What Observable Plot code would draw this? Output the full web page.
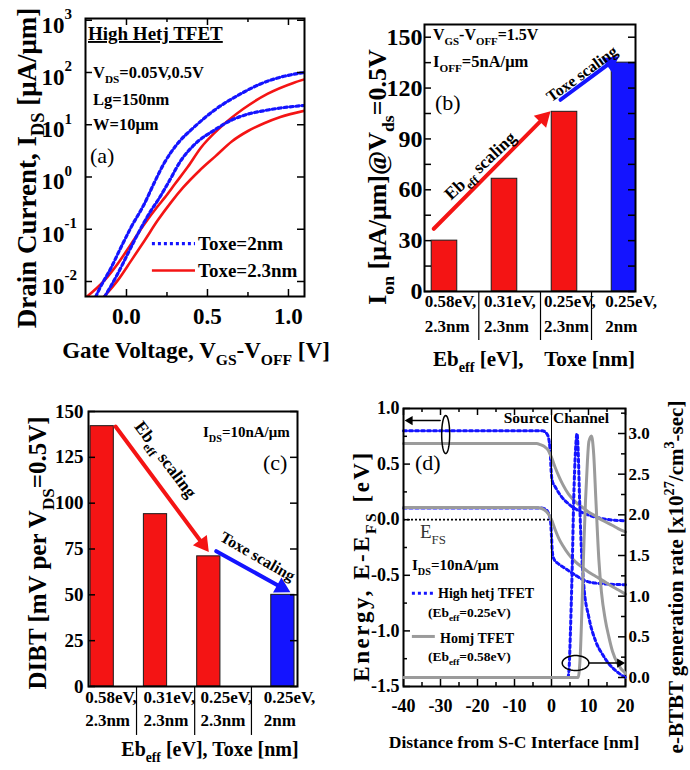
<!DOCTYPE html>
<html><head><meta charset="utf-8">
<script src="https://cdn.jsdelivr.net/npm/d3@7"></script>
<script src="https://cdn.jsdelivr.net/npm/@observablehq/plot@0.6"></script>
<style>
body{margin:0;background:#fff}
#wrap{position:relative;width:690px;height:770px;background:#fff;overflow:hidden}
#wrap svg{position:absolute;left:0;top:0}
</style></head><body><div id="wrap"></div>
<script>
// ---------- DATA ----------
// (a) transfer curves: gate voltage V_GS-V_OFF [V] and drain current [uA/um]
const vgBlueHi = [-0.19, -0.167, -0.094, -0.033, 0.029, 0.111, 0.17, 0.23, 0.313, 0.416, 0.539, 0.704, 0.827, 0.951, 1.1];
const idBlueHi = [0.0051, 0.0072, 0.0186, 0.0457, 0.110, 0.309, 0.76, 1.78, 4.27, 8.91, 18.6, 38.9, 60.3, 81.3, 100];
const vgBlueLo = [-0.135, -0.054, 0.008, 0.070, 0.152, 0.193, 0.26, 0.333, 0.43, 0.539, 0.642, 0.745, 0.85, 0.951, 1.1];
const idBlueLo = [0.0051, 0.0141, 0.0339, 0.0813, 0.229, 0.355, 0.794, 2.0, 4.47, 7.76, 12.0, 15.8, 18.6, 20.9, 23.4];
const vgRedHi = [-0.245, -0.136, -0.054, 0.029, 0.111, 0.193, 0.235, 0.3, 0.38, 0.457, 0.58, 0.72, 0.87, 1.03, 1.1];
const idRedHi = [0.0051, 0.0105, 0.0219, 0.0525, 0.126, 0.275, 0.398, 0.741, 1.58, 3.55, 8.91, 20.0, 38.9, 63.1, 74.1];
const vgRedLo = [-0.14, -0.054, 0.029, 0.111, 0.193, 0.276, 0.35, 0.45, 0.55, 0.65, 0.75, 0.85, 0.95, 1.1];
const idRedLo = [0.0051, 0.0105, 0.0251, 0.0603, 0.148, 0.331, 0.631, 1.32, 2.51, 4.79, 7.59, 10.7, 14.1, 18.6];
const ticksLogA = [0.01, 0.1, 1, 10, 100, 1000];
const ticksVgA = [0, 0.5, 1.0];

// (b),(c) bar charts
const catEb = ["0.58eV,", "0.31eV,", "0.25eV,", "0.25eV,"];
const catToxe = ["2.3nm", "2.3nm", "2.3nm", "2nm"];
const ionVals = [30, 66.5, 106, 135];
const dibtVals = [142, 94, 71, 50];
const ticksB = [0, 30, 60, 90, 120, 150];
const ticksC = [0, 25, 50, 75, 100, 125, 150];

// (d) band diagrams: distance [nm], energy [eV]
const xEcHet = [-40, -2.5, -1.2, -0.6, -0.3, -0.1, 0.2, 1.1, 2.4, 4.7, 7.4, 10.1, 13.7, 20];
const eEcHet = [0.80, 0.80, 0.77, 0.70, 0.58, 0.44, 0.35, 0.29, 0.22, 0.14, 0.08, 0.04, 0.01, -0.01];
const xEvHet = [-40, -3, -2, -1, -0.3, 0, 0.2, 0.6, 2, 3.8, 6.5, 9.2, 11.9, 20];
const eEvHet = [0.105, 0.105, 0.10, 0.07, 0.0, -0.15, -0.28, -0.35, -0.40, -0.44, -0.50, -0.55, -0.57, -0.585];
const xHom = [-40, -4, -3, -2, -1, 0, 1, 2, 3, 4.6, 6.5, 8.4, 10, 12, 14, 16.4, 18, 20];
const eEcHom = [0.685, 0.685, 0.675, 0.66, 0.63, 0.56, 0.47, 0.39, 0.32, 0.23, 0.16, 0.11, 0.07, 0.03, -0.01, -0.05, -0.08, -0.11];
const eEvHom = [0.11, 0.11, 0.105, 0.09, 0.06, 0.0, -0.09, -0.17, -0.23, -0.31, -0.38, -0.43, -0.47, -0.51, -0.55, -0.60, -0.63, -0.67];
// (d) e-BTBT generation rate [x10^27 /cm^3-sec]
const xGenHom = [-40, 7.2, 7.8, 8.3, 8.8, 9.2, 9.7, 10.1, 10.8, 11.4, 12, 12.8, 13.5, 14.5, 15.5, 16.5, 18, 20];
const gGenHom = [0, 0, 0.3, 0.95, 1.7, 2.18, 2.65, 2.9, 2.97, 2.75, 2.18, 1.45, 1.05, 0.72, 0.5, 0.32, 0.16, 0.05];
const xGenHet = [4.5, 4.8, 5.1, 5.6, 6.0, 6.5, 6.9, 7.2, 7.6, 7.9, 8.7, 10.1, 11.9, 13.7, 15.5, 18, 20];
const gGenHet = [0, 0.15, 0.54, 1.36, 2.18, 2.8, 3.0, 2.79, 2.18, 1.77, 1.15, 0.74, 0.45, 0.29, 0.17, 0.06, 0.0];
const ticksDx = [-40, -30, -20, -10, 0, 10, 20];
const ticksDy = [-1.5, -1.0, -0.5, 0.0, 0.5, 1.0];
const ticksDr = [0, 0.5, 1.0, 1.5, 2.0, 2.5, 3.0];

// ---------- HELPERS ----------
const SERIF = "'Liberation Serif','Times New Roman',serif";
const BLUE = "#1414ff", RED = "#f41414", GRAY = "#9b9b9b";
const W = 690, H = 770;
const wrap = document.getElementById("wrap");
const tbl = (xs, ys) => xs.map((x, k) => ({x, y: ys[k]}));

function frameOpts(l, r, t, b) {
  return {width: W, height: H, marginLeft: l, marginRight: W - r, marginTop: t, marginBottom: H - b,
    style: {background: "transparent", fontFamily: SERIF, overflow: "visible"}};
}
function ticksY(vals, plotW, len, side) {
  const o = {y: d => d, stroke: "#000", strokeWidth: 1.5};
  o[side === "left" ? "insetRight" : "insetLeft"] = plotW - len;
  return Plot.tickY(vals, o);
}
function ticksX(vals, plotH, len, side) {
  const o = {x: d => d, stroke: "#000", strokeWidth: 1.5};
  o[side === "bottom" ? "insetTop" : "insetBottom"] = plotH - len;
  return Plot.tickX(vals, o);
}
function rich(svg, x, y, parts, o = {}) {
  const size = o.size || 16;
  const t = d3.select(svg).append("text")
    .attr("transform", `translate(${x},${y})` + (o.rotate ? ` rotate(${o.rotate})` : ""))
    .attr("text-anchor", o.anchor || "start")
    .attr("font-family", SERIF).attr("font-size", size)
    .attr("font-weight", o.weight || "bold").attr("fill", o.fill || "#000")
    .style("white-space", "pre");
  if (o.ls) t.attr("letter-spacing", o.ls);
  if (o.underline) t.attr("text-decoration", "underline");
  let shift = 0;
  for (const p of parts) {
    const [s, k] = Array.isArray(p) ? p : [p, null];
    const target = k === "sub" ? size * 0.3 : k === "sup" ? -size * 0.42 : 0;
    const ts = t.append("tspan").attr("dy", target - shift).text(s);
    if (k) ts.attr("font-size", size * 0.68);
    shift = target;
  }
  return t;
}
function ellipse(cx, cy, rx, ry) {
  return d3.range(0, 61).map(k => ({x: cx + rx * Math.cos(k / 60 * 2 * Math.PI), y: cy + ry * Math.sin(k / 60 * 2 * Math.PI)}));
}
const txt = (o) => Object.assign({fontFamily: SERIF, fontWeight: "bold"}, o);
// arrow = shaft (Plot.arrow without wings, shortened) + filled triangular head (Plot.dot)
function arrowMarks(seg, color, sw, headH, angleDeg) {
  const yy = headH / 3;
  const size = 3 * Math.sqrt(3) * yy * yy;
  const r = Math.sqrt(size / Math.PI);
  const a = angleDeg * Math.PI / 180, off = 2 * yy;
  return [
    Plot.arrow([seg], {x1: "x1", y1: "y1", x2: "x2", y2: "y2", stroke: color, strokeWidth: sw, headLength: 0, insetEnd: headH * 0.8}),
    Plot.dot([seg], {x: "x2", y: "y2", symbol: "triangle", r, rotate: angleDeg + 90, fill: color, stroke: "none",
      dx: -off * Math.cos(a), dy: -off * Math.sin(a)})
  ];
}

// ---------- (a) ----------
const A = Plot.plot({
  ...frameOpts(85, 304, 18, 296),
  x: {domain: [-0.253, 1.099], axis: null},
  y: {type: "log", domain: [10 ** -2.287, 10 ** 3.033], axis: null},
  marks: [
    Plot.line(tbl(vgRedLo, idRedLo), {x: "x", y: "y", stroke: RED, strokeWidth: 2.6, curve: "monotone-x", clip: true}),
    Plot.line(tbl(vgRedHi, idRedHi), {x: "x", y: "y", stroke: RED, strokeWidth: 2.6, curve: "monotone-x", clip: true}),
    Plot.line(tbl(vgBlueLo, idBlueLo), {x: "x", y: "y", stroke: BLUE, strokeWidth: 3.2, strokeDasharray: "3,3", curve: "monotone-x", clip: true}),
    Plot.line(tbl(vgBlueHi, idBlueHi), {x: "x", y: "y", stroke: BLUE, strokeWidth: 3.2, strokeDasharray: "3,3", curve: "monotone-x", clip: true}),
    Plot.ruleY([0.0533], {y: d => d, x1: () => 0.16, x2: () => 0.426, stroke: BLUE, strokeWidth: 3.2, strokeDasharray: "3,3"}),
    Plot.ruleY([0.01625], {y: d => d, x1: () => 0.16, x2: () => 0.426, stroke: RED, strokeWidth: 2.6}),
    ticksY(ticksLogA, 219, 7, "left"), ticksY(ticksLogA, 219, 7, "right"),
    ticksX(ticksVgA, 278, 7, "bottom"), ticksX(ticksVgA, 278, 7, "top"),
    ticksX([0.25, 0.75], 278, 4, "bottom"), ticksX([0.25, 0.75], 278, 4, "top"),
    Plot.text(ticksLogA, txt({y: d => d, text: () => "10", frameAnchor: "left", textAnchor: "end", dx: -21, dy: 5, fontSize: 23})),
    Plot.text(ticksLogA, txt({y: d => d, text: d => String(Math.round(Math.log10(d))), frameAnchor: "left", textAnchor: "start", dx: -21, dy: -6, fontSize: 15})),
    Plot.text(ticksVgA, txt({x: d => d, text: d => d.toFixed(1), frameAnchor: "bottom", dy: 27, fontSize: 23})),
    Plot.frame({stroke: "#000", strokeWidth: 2})
  ]
});
wrap.appendChild(A);
rich(A, 88, 40, ["High Hetj TFET"], {size: 19, underline: true});
rich(A, 93, 78, ["V", ["DS", "sub"], "=0.05V,0.5V"], {size: 16.5});
rich(A, 93, 105, ["Lg=150nm"], {size: 16.5});
rich(A, 93, 130, ["W=10μm"], {size: 16.5});
rich(A, 90, 163, ["(a)"], {size: 22, weight: "normal"});
rich(A, 198, 250, ["Toxe=2nm"], {size: 19});
rich(A, 198, 277, ["Toxe=2.3nm"], {size: 19});
rich(A, 196, 358, ["Gate Voltage, V", ["GS", "sub"], "-V", ["OFF", "sub"], " [V]"], {size: 23, anchor: "middle"});
rich(A, 36, 168, ["Drain Current, I", ["DS", "sub"], " [μA/μm]"], {size: 27, rotate: -90, anchor: "middle"});

// ---------- (b) ----------
const tblB = catEb.map((e, k) => ({slot: k + 1, eb: e, tox: catToxe[k], v: ionVals[k], fill: catToxe[k] === "2nm" ? BLUE : RED}));
const labStartB = [0.67, 1.66, 2.66, 3.68];
const B = Plot.plot({
  ...frameOpts(424, 635, 24, 291),
  x: {domain: [0.667, 4.183], axis: null},
  y: {domain: [0, 157.5], axis: null},
  color: {type: "identity"},
  marks: [
    Plot.rect(tblB, {x1: d => d.slot - 0.213, x2: d => d.slot + 0.213, y1: () => 0, y2: "v", fill: "fill", stroke: "#1a1a1a", strokeWidth: 1, clip: true}),
    ...arrowMarks({x1: 0.822, y1: 37, x2: 2.767, y2: 106.4}, RED, 4, 15, -45.2),
    ...arrowMarks({x1: 2.933, y1: 113.1, x2: 3.905, y2: 138.7}, BLUE, 4, 15, -36.6),
    ticksY(d3.range(0, 151, 15), 211, 7, "left"), ticksY(d3.range(0, 151, 15), 211, 7, "right"),
    Plot.ruleX([1.572, 2.6, 3.45], {x: d => d, y1: () => 0, y2: () => -28.9, stroke: "#000", strokeWidth: 1.2}),
    Plot.text(tblB, txt({x: d => labStartB[d.slot - 1], text: "eb", frameAnchor: "bottom", textAnchor: "start", dy: 15, fontSize: 17})),
    Plot.text(tblB, txt({x: d => labStartB[d.slot - 1], text: "tox", frameAnchor: "bottom", textAnchor: "start", dy: 40, fontSize: 17})),
    Plot.text(ticksB, txt({y: d => d, text: d => String(d), frameAnchor: "left", textAnchor: "end", dx: -2, fontSize: 24})),
    Plot.frame({stroke: "#000", strokeWidth: 2})
  ]
});
wrap.appendChild(B);
rich(B, 433, 40, ["V", ["GS", "sub"], "-V", ["OFF", "sub"], "=1.5V"], {size: 16});
rich(B, 433, 67, ["I", ["OFF", "sub"], "=5nA/μm"], {size: 16.5});
rich(B, 435, 110, ["(b)"], {size: 22, weight: "normal"});
rich(B, 484, 170, ["Eb", ["eff", "sub"], " scaling"], {size: 17.5, rotate: -43, anchor: "middle"});
rich(B, 585, 78, ["Toxe scaling"], {size: 16, rotate: -36, anchor: "middle"});
rich(B, 433, 366, ["Eb", ["eff", "sub"], " [eV],"], {size: 21});
rich(B, 635, 366, ["Toxe [nm]"], {size: 21, anchor: "end"});
rich(B, 386, 177, ["I", ["on", "sub"], " [μA/μm]@V", ["ds", "sub"], "=0.5V"], {size: 26, rotate: -90, anchor: "middle"});

// ---------- (c) ----------
const slotC = [1, 2, 3, 4.39];
const tblC = catEb.map((e, k) => ({slot: slotC[k], eb: e, tox: catToxe[k], v: dibtVals[k], fill: catToxe[k] === "2nm" ? BLUE : RED}));
const labStartC = [0.68, 1.775, 2.845, 4.03];
const C = Plot.plot({
  ...frameOpts(88, 297, 411, 686),
  x: {domain: [0.743, 4.664], axis: null},
  y: {domain: [0, 150], axis: null},
  color: {type: "identity"},
  marks: [
    Plot.rect(tblC, {x1: d => d.slot - 0.218, x2: d => d.slot + 0.218, y1: () => 0, y2: "v", fill: "fill", stroke: "#1a1a1a", strokeWidth: 1, clip: true}),
    ...arrowMarks({x1: 1.25, y1: 141.8, x2: 3.0, y2: 73.3}, RED, 4, 15, 53.4),
    ...arrowMarks({x1: 3.14, y1: 73.8, x2: 4.53, y2: 51.4}, BLUE, 4, 15, 29),
    ticksY(ticksC, 209, 7, "left"), ticksY(ticksC, 209, 7, "right"),
    Plot.ruleX([1.644, 2.735, 3.80], {x: d => d, y1: () => 0, y2: () => -26.7, stroke: "#000", strokeWidth: 1.2}),
    Plot.text(tblC, txt({x: (d, k) => labStartC[k], text: "eb", frameAnchor: "bottom", textAnchor: "start", dy: 16, fontSize: 17})),
    Plot.text(tblC, txt({x: (d, k) => labStartC[k], text: "tox", frameAnchor: "bottom", textAnchor: "start", dy: 39, fontSize: 17})),
    Plot.text(ticksC, txt({y: d => d, text: d => String(d), frameAnchor: "left", textAnchor: "end", dx: -5, fontSize: 19})),
    Plot.frame({stroke: "#000", strokeWidth: 2})
  ]
});
wrap.appendChild(C);
rich(C, 203, 437, ["I", ["DS", "sub"], "=10nA/μm"], {size: 15});
rich(C, 263, 470, ["(c)"], {size: 22, weight: "normal"});
rich(C, 161, 463, ["Eb", ["eff", "sub"], " scaling"], {size: 17.5, rotate: 53, anchor: "middle"});
rich(C, 255, 561, ["Toxe scaling"], {size: 16, rotate: 30, anchor: "middle"});
rich(C, 210, 756, ["Eb", ["eff", "sub"], " [eV], Toxe [nm]"], {size: 20, anchor: "middle"});
rich(C, 46, 553, ["DIBT [mV per V", ["DS", "sub"], "=0.5V]"], {size: 25, rotate: -90, anchor: "middle"});

// ---------- (d) left axis: band edges ----------
const D = Plot.plot({
  ...frameOpts(403, 625, 408, 686),
  x: {domain: [-40, 20], axis: null},
  y: {domain: [-1.5, 1.0], axis: null},
  marks: [
    Plot.line(tbl(xEvHet, eEvHet), {x: "x", y: "y", stroke: BLUE, strokeWidth: 3, strokeDasharray: "3,3", curve: "monotone-x"}),
    Plot.line(tbl(xEcHet, eEcHet), {x: "x", y: "y", stroke: BLUE, strokeWidth: 3, strokeDasharray: "3,3", curve: "monotone-x"}),
    Plot.line(tbl(xHom, eEcHom), {x: "x", y: "y", stroke: GRAY, strokeWidth: 3, curve: "monotone-x"}),
    Plot.line(tbl(xHom, eEvHom), {x: "x", y: "y", stroke: GRAY, strokeWidth: 3, curve: "monotone-x"}),
    Plot.ruleY([0], {y: d => d, x1: () => -40, x2: () => 0, stroke: "#000", strokeWidth: 1.8, strokeDasharray: "2,2"}),
    Plot.ruleX([0], {x: d => d, stroke: "#000", strokeWidth: 1}),
    Plot.line(ellipse(-28.6, 0.766, 1.08, 0.171), {x: "x", y: "y", stroke: "#000", strokeWidth: 1.5}),
    ...arrowMarks({x1: -30.1, y1: 0.892, x2: -39.7, y2: 0.892}, "#000", 1.5, 8, 180),
    Plot.ruleY([-0.661], {y: d => d, x1: () => -37.6, x2: () => -31.4, stroke: BLUE, strokeWidth: 3, strokeDasharray: "3,3"}),
    Plot.ruleY([-1.05], {y: d => d, x1: () => -37.6, x2: () => -31.4, stroke: GRAY, strokeWidth: 3}),
    ticksY(ticksDy, 222, 7, "left"), ticksY([-1.25, -0.75, -0.25, 0.25, 0.75], 222, 4, "left"),
    ticksX(ticksDx, 278, 7, "bottom"), ticksX([-35, -25, -15, -5, 5, 15], 278, 4, "bottom"),
    ticksX(ticksDx, 278, 7, "top"), ticksX([-35, -25, -15, -5, 5, 15], 278, 4, "top"),
    Plot.text(ticksDy, txt({y: d => d, text: d => d.toFixed(1), frameAnchor: "left", textAnchor: "end", dx: -4, fontSize: 18})),
    Plot.text(ticksDx, txt({x: d => d, text: d => String(d), frameAnchor: "bottom", dy: 25, fontSize: 18})),
    Plot.frame({stroke: "#000", strokeWidth: 2})
  ]
});
wrap.appendChild(D);
rich(D, 549, 423, ["Source"], {size: 15.5, anchor: "end"});
rich(D, 553, 423, ["Channel"], {size: 15.5});
rich(D, 415, 470, ["(d)"], {size: 22, weight: "normal"});
rich(D, 420, 538, ["E", ["FS", "sub"]], {size: 19, weight: "normal", fill: "#333"});
rich(D, 412, 570, ["I", ["DS", "sub"], "=10nA/μm"], {size: 15});
rich(D, 438, 598, ["High hetj TFET"], {size: 14});
rich(D, 428, 617, ["(Eb", ["eff", "sub"], "=0.25eV)"], {size: 13.5});
rich(D, 440, 643, ["Homj TFET"], {size: 14});
rich(D, 428, 661, ["(Eb", ["eff", "sub"], "=0.58eV)"], {size: 13.5});
rich(D, 514, 748, ["Distance from S-C Interface [nm]"], {size: 17.5, anchor: "middle"});
rich(D, 369, 566, ["Energy, E-E", ["FS", "sub"], " [eV]"], {size: 23, rotate: -90, anchor: "middle", ls: 2.5});

// ---------- (d) right axis: e-BTBT generation rate ----------
const D2 = Plot.plot({
  ...frameOpts(403, 625, 408, 686),
  x: {domain: [-40, 20], axis: null},
  y: {domain: [-0.1107, 3.3075], axis: null},
  marks: [
    Plot.line(tbl(xGenHet, gGenHet), {x: "x", y: "y", stroke: BLUE, strokeWidth: 3, strokeDasharray: "3,3", curve: "monotone-x"}),
    Plot.line(tbl(xGenHom, gGenHom), {x: "x", y: "y", stroke: GRAY, strokeWidth: 3, curve: "monotone-x"}),
    Plot.line(ellipse(6.5, 0.178, 3.6, 0.092), {x: "x", y: "y", stroke: "#000", strokeWidth: 1.5}),
    ...arrowMarks({x1: 10.1, y1: 0.178, x2: 19.9, y2: 0.178}, "#000", 1.5, 8, 0),
    ticksY(ticksDr, 222, 7, "right"), ticksY([0.25, 0.75, 1.25, 1.75, 2.25, 2.75, 3.25], 222, 4, "right"),
    Plot.text(ticksDr, txt({y: d => d, text: d => d.toFixed(1), frameAnchor: "right", textAnchor: "start", dx: 3, fontSize: 17}))
  ]
});
wrap.appendChild(D2);
rich(D2, 683, 577, ["e-BTBT generation rate [x10", ["27", "sup"], "/cm", ["3", "sup"], "-sec]"], {size: 21, rotate: -90, anchor: "middle"});
</script>
</body></html>
